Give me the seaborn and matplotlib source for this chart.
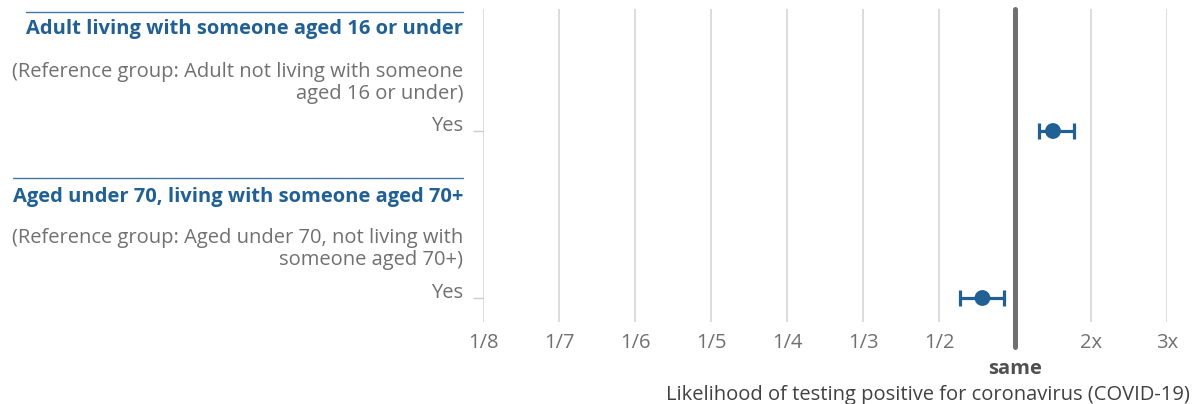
import numpy as np
import pandas as pd
import matplotlib
matplotlib.use("Agg")
import matplotlib.pyplot as plt
import matplotlib.transforms as mtransforms
from matplotlib.lines import Line2D
import seaborn as sns

# ---------------- data ----------------
groups = ["Adult living with someone aged 16 or under",
          "Aged under 70, living with someone aged 70+"]
reference_groups = ["(Reference group: Adult not living with someone\naged 16 or under)",
                    "(Reference group: Aged under 70, not living with\nsomeone aged 70+)"]
row_labels = ["Yes", "Yes"]
estimates = [1.50, 0.70]
lower = [1.31, 0.58]
upper = [1.78, 0.87]

tick_values = [1/8, 1/7, 1/6, 1/5, 1/4, 1/3, 1/2, 1, 2, 3]
tick_labels = ["1/8", "1/7", "1/6", "1/5", "1/4", "1/3", "1/2", "", "2x", "3x"]
same_label = "same"
x_title = "Likelihood of testing positive for coronavirus (COVID-19)"

# ---------------- style ----------------
BLUE = "#206095"
GREY = "#707070"
DARK = "#414042"
FS = 14.5
W, H = 1197, 404

sns.set_theme(style="white")
plt.rcParams["font.family"] = ["Open Sans", "DejaVu Sans"]

fig = plt.figure(figsize=(W / 100, H / 100), dpi=100)
ax_left, ax_right, ax_top, ax_bot = 483, 1167, 9, 322
ax = fig.add_axes([ax_left / W, 1 - ax_bot / H, (ax_right - ax_left) / W, (ax_bot - ax_top) / H])


def fwd(x):
    x = np.asarray(x, dtype=float)
    xs = np.maximum(x, 1e-3)
    return np.where(x < 1, 8 - 1 / xs, 6 + x)


def inv(p):
    p = np.asarray(p, dtype=float)
    ps = np.minimum(p, 7)
    return np.where(p < 7, 1 / (8 - ps), p - 6)


ax.set_xlim(1/8, 3)
ax.set_xscale("function", functions=(fwd, inv))

df = pd.DataFrame({"row": np.arange(len(estimates)), "est": estimates,
                   "lo": lower, "hi": upper})

ax.errorbar(df["est"], df["row"], xerr=[df["est"] - df["lo"], df["hi"] - df["est"]],
            fmt="none", ecolor=BLUE, elinewidth=2.3, capsize=5.5, capthick=2.3, zorder=4)
sns.scatterplot(data=df, x="est", y="row", ax=ax, color=BLUE, s=130,
                edgecolor="none", zorder=5, legend=False)

# y limits so rows land correctly
ax.set_ylim(1 + (322 - 298) / 167, -(131 - 9) / 167)
ax.set_xlim(1/8, 3)

ax.set_xticks(tick_values, tick_labels)
ax.set_yticks(df["row"], row_labels)
ax.set_xlabel("")
ax.set_ylabel("")
ax.grid(axis="x", color="#d9d9d9", lw=1.3)
ax.grid(axis="y", visible=False)
for s in ax.spines.values():
    s.set_visible(False)

ax.tick_params(axis="x", length=0, pad=8, labelsize=FS, labelcolor=GREY)
ax.tick_params(axis="y", length=7.5, width=1, color="#cccccc", pad=7,
               labelsize=FS, labelcolor=GREY, left=True)
for t in ax.get_yticklabels():
    t.set_verticalalignment("baseline")

ax.axvline(1, ymin=-(347 - 322) / (322 - 9), ymax=1, color=GREY, lw=3.6,
           clip_on=False, zorder=3)

trans = mtransforms.blended_transform_factory(ax.transData, ax.transAxes)
ax.text(1, -(374 - 322) / (322 - 9), same_label, transform=trans, ha="center",
        va="baseline", fontsize=FS, fontweight="bold", color="#505050")

fig.text(1190 / W, 1 - 400 / H, x_title, ha="right", va="baseline",
         fontsize=FS, color=DARK)

# left-hand headers
header_baselines = [34, 202]
header_rule_y = [12, 178]
ref_baselines = [[77, 99], [243, 265]]
text_right = 463 / W
header_texts = []
for g, ref, hb, rb in zip(groups, reference_groups, header_baselines, ref_baselines):
    header_texts.append(fig.text(text_right, 1 - hb / H, g, ha="right", va="baseline",
                                 fontsize=FS, fontweight="bold", color=BLUE))
    for line, b in zip(ref.split("\n"), rb):
        fig.text(text_right, 1 - b / H, line, ha="right", va="baseline",
                 fontsize=FS, color=GREY)

fig.canvas.draw()
renderer = fig.canvas.get_renderer()
for t, ry in zip(header_texts, header_rule_y):
    bb = t.get_window_extent(renderer)
    x0 = bb.x0 / W
    fig.add_artist(Line2D([x0, text_right], [1 - ry / H, 1 - ry / H],
                          transform=fig.transFigure, color=BLUE, lw=1.0, alpha=0.85))

fig.savefig("out.png", dpi=100)
